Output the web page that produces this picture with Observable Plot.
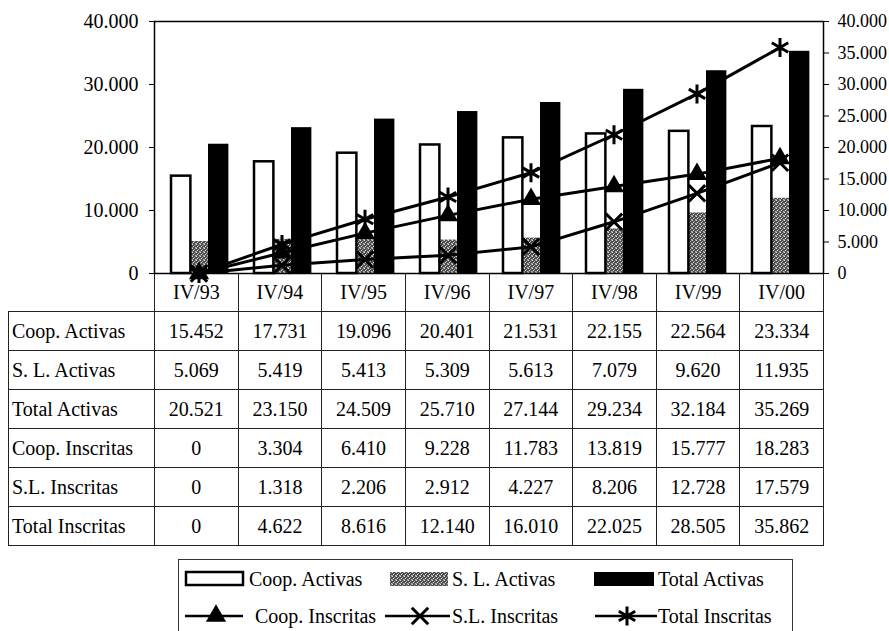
<!DOCTYPE html>
<html>
<head>
<meta charset="utf-8">
<script src="https://cdn.jsdelivr.net/npm/d3@7"></script>
<script src="https://cdn.jsdelivr.net/npm/@observablehq/plot@0.6"></script>
<style>
  html, body { margin: 0; padding: 0; background: #fff; }
  #wrap { position: relative; width: 889px; height: 631px; overflow: hidden; font-family: "Liberation Serif", "Times New Roman", serif; color: #000; }
  #chart { position: absolute; left: 0; top: 0; z-index: 2; }
  #tbl { position: absolute; left: 0; top: 0; z-index: 1; }
  .cell { position: absolute; box-sizing: border-box; border: 1px solid #222; display: flex; align-items: center; justify-content: center; font-size: 20px; white-space: nowrap; }
  .cell.lab { justify-content: flex-start; padding-left: 3px; }
  .cell.head { border-top: none; }
  #legend { position: absolute; left: 0; top: 0; z-index: 3; }
</style>
</head>
<body>
<div id="wrap">
  <div id="tbl"></div>
  <div id="chart"></div>
  <div id="legend"></div>
</div>
<script>
// ---- data ----
const categories = ["IV/93", "IV/94", "IV/95", "IV/96", "IV/97", "IV/98", "IV/99", "IV/00"];
const coopActivas = [15452, 17731, 19096, 20401, 21531, 22155, 22564, 23334];
const slActivas = [5069, 5419, 5413, 5309, 5613, 7079, 9620, 11935];
const totalActivas = [20521, 23150, 24509, 25710, 27144, 29234, 32184, 35269];
const coopInscritas = [0, 3304, 6410, 9228, 11783, 13819, 15777, 18283];
const slInscritas = [0, 1318, 2206, 2912, 4227, 8206, 12728, 17579];
const totalInscritas = [0, 4622, 8616, 12140, 16010, 22025, 28505, 35862];
const seriesNames = ["Coop. Activas", "S. L. Activas", "Total Activas", "Coop. Inscritas", "S.L. Inscritas", "Total Inscritas"];
const legendNames = ["Coop. Activas", "S. L. Activas", "Total Activas", "Coop. Inscritas", "S.L. Inscritas", "Total Inscritas"];
const leftTicks = [0, 10000, 20000, 30000, 40000];
const rightTicks = [0, 5000, 10000, 15000, 20000, 25000, 30000, 35000, 40000];

const locale = d3.formatLocale({decimal: ",", thousands: ".", grouping: [3], currency: ["", ""]});
const fmt = locale.format(",d");

const rows = categories.map((c, i) => ({
  c,
  coopA: coopActivas[i], slA: slActivas[i], totA: totalActivas[i],
  coopI: coopInscritas[i], slI: slInscritas[i], totI: totalInscritas[i]
}));

// ---- layout ----
const W = 889, ML = 154, MR = 66, MT = 21, PLOT_BOTTOM = 273;
const bw = (W - ML - MR) / categories.length;

// stipple pattern (hidden svg defs)
const defsSvg = d3.select("#wrap").append("svg").attr("width", 0).attr("height", 0).style("position", "absolute");
const pat = defsSvg.append("defs").append("pattern").attr("id", "stipple")
  .attr("patternUnits", "userSpaceOnUse").attr("width", 4).attr("height", 4);
pat.append("rect").attr("width", 4).attr("height", 4).attr("fill", "#4a4a4a");
[[0,0,"#d8d8d8"],[2,1,"#b0b0b0"],[1,2,"#e8e8e8"],[3,3,"#bcbcbc"],[3,0,"#8a8a8a"],[0,3,"#9a9a9a"]].forEach(([x,y,c]) =>
  pat.append("rect").attr("x", x).attr("y", y).attr("width", 1).attr("height", 1).attr("fill", c));

const chart = Plot.plot({
  width: W,
  height: PLOT_BOTTOM + 3,
  marginLeft: ML, marginRight: MR, marginTop: MT, marginBottom: 3,
  style: {fontFamily: "'Liberation Serif', 'Times New Roman', serif", background: "transparent", overflow: "visible", color: "black"},
  x: {type: "band", domain: categories, padding: 0, axis: null},
  y: {domain: [0, 40000], axis: null},
  marks: [
    Plot.barY(rows, {x: "c", y: "slA", fill: "url(#stipple)", insetLeft: 33, insetRight: bw - 53}),
    Plot.barY(rows, {x: "c", y: "coopA", fill: "white", stroke: "black", strokeWidth: 2.5, insetLeft: 14, insetRight: bw - 34}),
    Plot.barY(rows, {x: "c", y: "totA", fill: "black", insetLeft: 51, insetRight: bw - 72}),
    Plot.frame({stroke: "black", strokeWidth: 1.5}),
    Plot.axisY({anchor: "left", ticks: leftTicks, tickFormat: fmt, tickSize: 5, tickPadding: 11, fontSize: 20, label: null}),
    Plot.axisY({anchor: "right", ticks: rightTicks, tickFormat: fmt, tickSize: 5, tickPadding: 9, fontSize: 18, label: null}),
    Plot.line(rows, {x: "c", y: "coopI", stroke: "black", strokeWidth: 3}),
    Plot.line(rows, {x: "c", y: "slI", stroke: "black", strokeWidth: 3}),
    Plot.line(rows, {x: "c", y: "totI", stroke: "black", strokeWidth: 3}),
    Plot.dot(rows, {x: "c", y: "coopI", symbol: "triangle", fill: "black", stroke: "none", r: 7.5}),
    Plot.dot(rows, {x: "c", y: "slI", symbol: "times", stroke: "black", strokeWidth: 3, r: 7.5}),
    Plot.dot(rows, {x: "c", y: "totI", symbol: "asterisk", stroke: "black", strokeWidth: 3, r: 9})
  ]
});
document.getElementById("chart").appendChild(chart);

// ---- data table below the plot ----
const tbl = d3.select("#tbl");
const HEAD_H = 38, ROW_H = 39, LAB_L = 8;
categories.forEach((c, i) => {
  tbl.append("div").attr("class", "cell head")
    .style("left", (ML + i * bw) + "px").style("top", PLOT_BOTTOM + "px")
    .style("width", (bw + 1) + "px").style("height", (HEAD_H + 1) + "px")
    .text(c);
});
const tableSeries = [coopActivas, slActivas, totalActivas, coopInscritas, slInscritas, totalInscritas];
tableSeries.forEach((vals, r) => {
  const top = PLOT_BOTTOM + HEAD_H + r * ROW_H;
  tbl.append("div").attr("class", "cell lab")
    .style("left", LAB_L + "px").style("top", top + "px")
    .style("width", (ML - LAB_L + 1) + "px").style("height", (ROW_H + 1) + "px")
    .text(seriesNames[r]);
  vals.forEach((v, i) => {
    tbl.append("div").attr("class", "cell")
      .style("left", (ML + i * bw) + "px").style("top", top + "px")
      .style("width", (bw + 1) + "px").style("height", (ROW_H + 1) + "px")
      .text(fmt(v));
  });
});

// ---- legend ----
const lg = d3.select("#legend").append("svg").attr("width", W).attr("height", 631)
  .style("font-family", "'Liberation Serif', 'Times New Roman', serif").style("font-size", "20px");
lg.append("rect").attr("x", 178.5).attr("y", 559.5).attr("width", 614).attr("height", 90)
  .attr("fill", "white").attr("stroke", "#333").attr("stroke-width", 1);
const r1 = 579, r2 = 616;
// row 1: bar swatches
lg.append("rect").attr("x", 186).attr("y", r1 - 7).attr("width", 57).attr("height", 13)
  .attr("fill", "white").attr("stroke", "black").attr("stroke-width", 2.5);
lg.append("rect").attr("x", 390).attr("y", r1 - 7).attr("width", 58).attr("height", 14).attr("fill", "url(#stipple)");
lg.append("rect").attr("x", 594).attr("y", r1 - 7).attr("width", 60).attr("height", 14).attr("fill", "black");
[[249, 0], [452, 1], [658, 2]].forEach(([x, k]) =>
  lg.append("text").attr("x", x).attr("y", r1 + 7).text(legendNames[k]));
// row 2: line swatches
const sym = (type, r) => d3.symbol(type, Math.PI * r * r)();
[[185, 243, 216, d3.symbolTriangle, 7.5, true, 255, 3],
 [385, 450, 420, d3.symbolTimes, 7.5, false, 452, 4],
 [595, 657, 627, d3.symbolAsterisk, 9, false, 658, 5]].forEach(([x1, x2, cx, t, r, filled, tx, k]) => {
  lg.append("line").attr("x1", x1).attr("x2", x2).attr("y1", r2).attr("y2", r2).attr("stroke", "black").attr("stroke-width", 2.5);
  lg.append("path").attr("d", sym(t, r)).attr("transform", `translate(${cx},${r2})`)
    .attr("fill", filled ? "black" : "none").attr("stroke", filled ? "none" : "black").attr("stroke-width", 3);
  lg.append("text").attr("x", tx).attr("y", r2 + 7).text(legendNames[k]);
});
</script>
</body>
</html>
